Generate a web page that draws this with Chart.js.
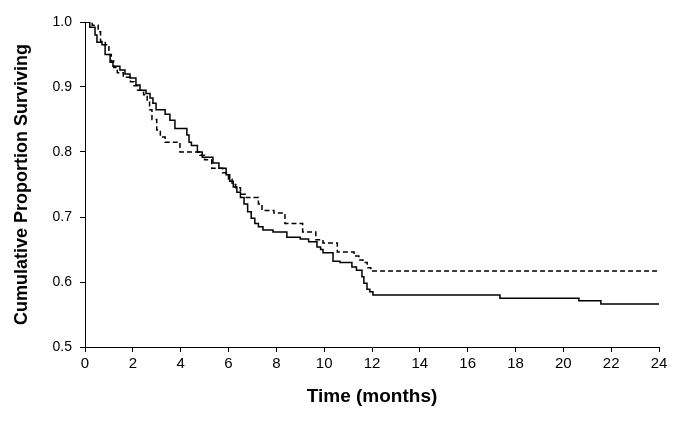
<!DOCTYPE html>
<html lang="en">
<head>
    <meta charset="UTF-8">
    <title>Cumulative Proportion Surviving</title>
    <script src="https://cdn.jsdelivr.net/npm/chart.js"></script>
    <style>
        body {
            margin: 0;
            padding: 0;
            background-color: #ffffff;
        }
        #wrap {
            width: 676px;
            height: 421px;
        }
    </style>
</head>
<body>
    <div id="wrap">
        <canvas id="kmChart" width="676" height="421"></canvas>
    </div>

    <script>
        // solid curve (time in months, survival)
        const solidTime = [0, 0.2, 0.42, 0.5, 0.71, 0.84, 1.05, 1.17, 1.46, 1.67, 1.88, 2.13, 2.3, 2.55, 2.72, 2.84, 2.97, 3.35, 3.55, 3.76,
            4.26, 4.35, 4.45, 4.7, 4.9, 5.35, 5.6, 5.9, 6.05, 6.2, 6.35, 6.5, 6.65, 6.8, 6.95, 7.1, 7.25, 7.44, 7.86, 8.44,
            9.0, 9.35, 9.7, 9.85, 9.95, 10.37, 10.66, 11.16, 11.35, 11.58, 11.66, 11.79, 11.91, 12.04, 17.35, 20.65, 21.57, 24];
        const solidSurv = [1, 0.992, 0.98, 0.969, 0.965, 0.95, 0.938, 0.932, 0.926, 0.92, 0.914, 0.903, 0.895, 0.89, 0.883, 0.875, 0.865, 0.858, 0.849, 0.836,
            0.826, 0.815, 0.81, 0.80, 0.792, 0.783, 0.775, 0.765, 0.755, 0.746, 0.738, 0.73, 0.72, 0.708, 0.698, 0.69, 0.685, 0.68, 0.677, 0.669,
            0.666, 0.662, 0.654, 0.65, 0.645, 0.632, 0.63, 0.623, 0.618, 0.608, 0.598, 0.589, 0.585, 0.58, 0.575, 0.571, 0.566, 0.566];

        // dashed curve
        const dashedTime = [0, 0.3, 0.55, 0.65, 0.85, 1.0, 1.1, 1.2, 1.35, 1.6, 1.9, 2.05, 2.2, 2.45, 2.6, 2.7, 2.8, 3.0, 3.15, 3.35,
            3.97, 4.8, 5.0, 5.3, 5.75, 6.0, 6.15, 6.3, 6.5, 6.7, 7.25, 7.4, 7.9, 8.36, 9.1, 9.65, 9.95, 10.55, 11.25, 11.45,
            11.62, 11.8, 11.95, 24];
        const dashedSurv = [1, 0.995, 0.985, 0.97, 0.965, 0.95, 0.94, 0.93, 0.922, 0.915, 0.908, 0.902, 0.895, 0.888, 0.878, 0.865, 0.85, 0.834, 0.823, 0.815,
            0.80, 0.795, 0.788, 0.775, 0.768, 0.758, 0.75, 0.745, 0.735, 0.73, 0.72, 0.71, 0.706, 0.69, 0.677, 0.665, 0.66, 0.646, 0.64, 0.634,
            0.63, 0.622, 0.617, 0.617];

        // axis settings
        const xMin = 0, xMax = 24, xStep = 2;
        const yMin = 0.5, yMax = 1.0, yStep = 0.1;
        const xTitle = 'Time (months)';
        const yTitle = 'Cumulative Proportion Surviving';

        function toPoints(times, values) {
            return times.map((t, i) => ({ x: t, y: values[i] }));
        }

        const fontFamily = "'Liberation Sans', Arial, sans-serif";

        const ctx = document.getElementById('kmChart').getContext('2d');
        new Chart(ctx, {
            type: 'line',
            data: {
                datasets: [
                    {
                        label: 'solid',
                        data: toPoints(solidTime, solidSurv),
                        stepped: true,
                        borderColor: '#000000',
                        borderWidth: 1.5,
                        pointRadius: 0,
                        fill: false
                    },
                    {
                        label: 'dashed',
                        data: toPoints(dashedTime, dashedSurv),
                        stepped: true,
                        borderColor: '#000000',
                        borderWidth: 1.5,
                        borderDash: [5, 3],
                        pointRadius: 0,
                        fill: false
                    }
                ]
            },
            options: {
                responsive: false,
                animation: false,
                layout: {
                    padding: { left: 0, top: 22, right: 17, bottom: 0 }
                },
                plugins: {
                    legend: { display: false },
                    tooltip: { enabled: false }
                },
                scales: {
                    x: {
                        type: 'linear',
                        min: xMin,
                        max: xMax,
                        afterFit: (scale) => { scale.height = 74; },
                        ticks: {
                            stepSize: xStep,
                            color: '#000000',
                            padding: 3,
                            maxRotation: 0,
                            font: { family: fontFamily, size: 15 }
                        },
                        grid: {
                            drawOnChartArea: false,
                            tickLength: 5,
                            tickColor: '#000000'
                        },
                        border: { color: '#000000', width: 1 },
                        title: {
                            display: true,
                            text: xTitle,
                            color: '#000000',
                            padding: { top: 13, bottom: 13 },
                            font: { family: fontFamily, size: 19, weight: 'bold' }
                        }
                    },
                    y: {
                        type: 'linear',
                        min: yMin,
                        max: yMax,
                        afterFit: (scale) => { scale.width = 85; },
                        ticks: {
                            stepSize: yStep,
                            color: '#000000',
                            padding: 8,
                            font: { family: fontFamily, size: 14 },
                            callback: (v) => Number(v).toFixed(1)
                        },
                        grid: {
                            drawOnChartArea: false,
                            tickLength: 5,
                            tickColor: '#000000'
                        },
                        border: { color: '#000000', width: 1 },
                        title: {
                            display: true,
                            text: yTitle,
                            color: '#000000',
                            padding: { top: 11, bottom: 11 },
                            font: { family: fontFamily, size: 18, weight: 'bold' }
                        }
                    }
                }
            }
        });
    </script>
</body>
</html>
